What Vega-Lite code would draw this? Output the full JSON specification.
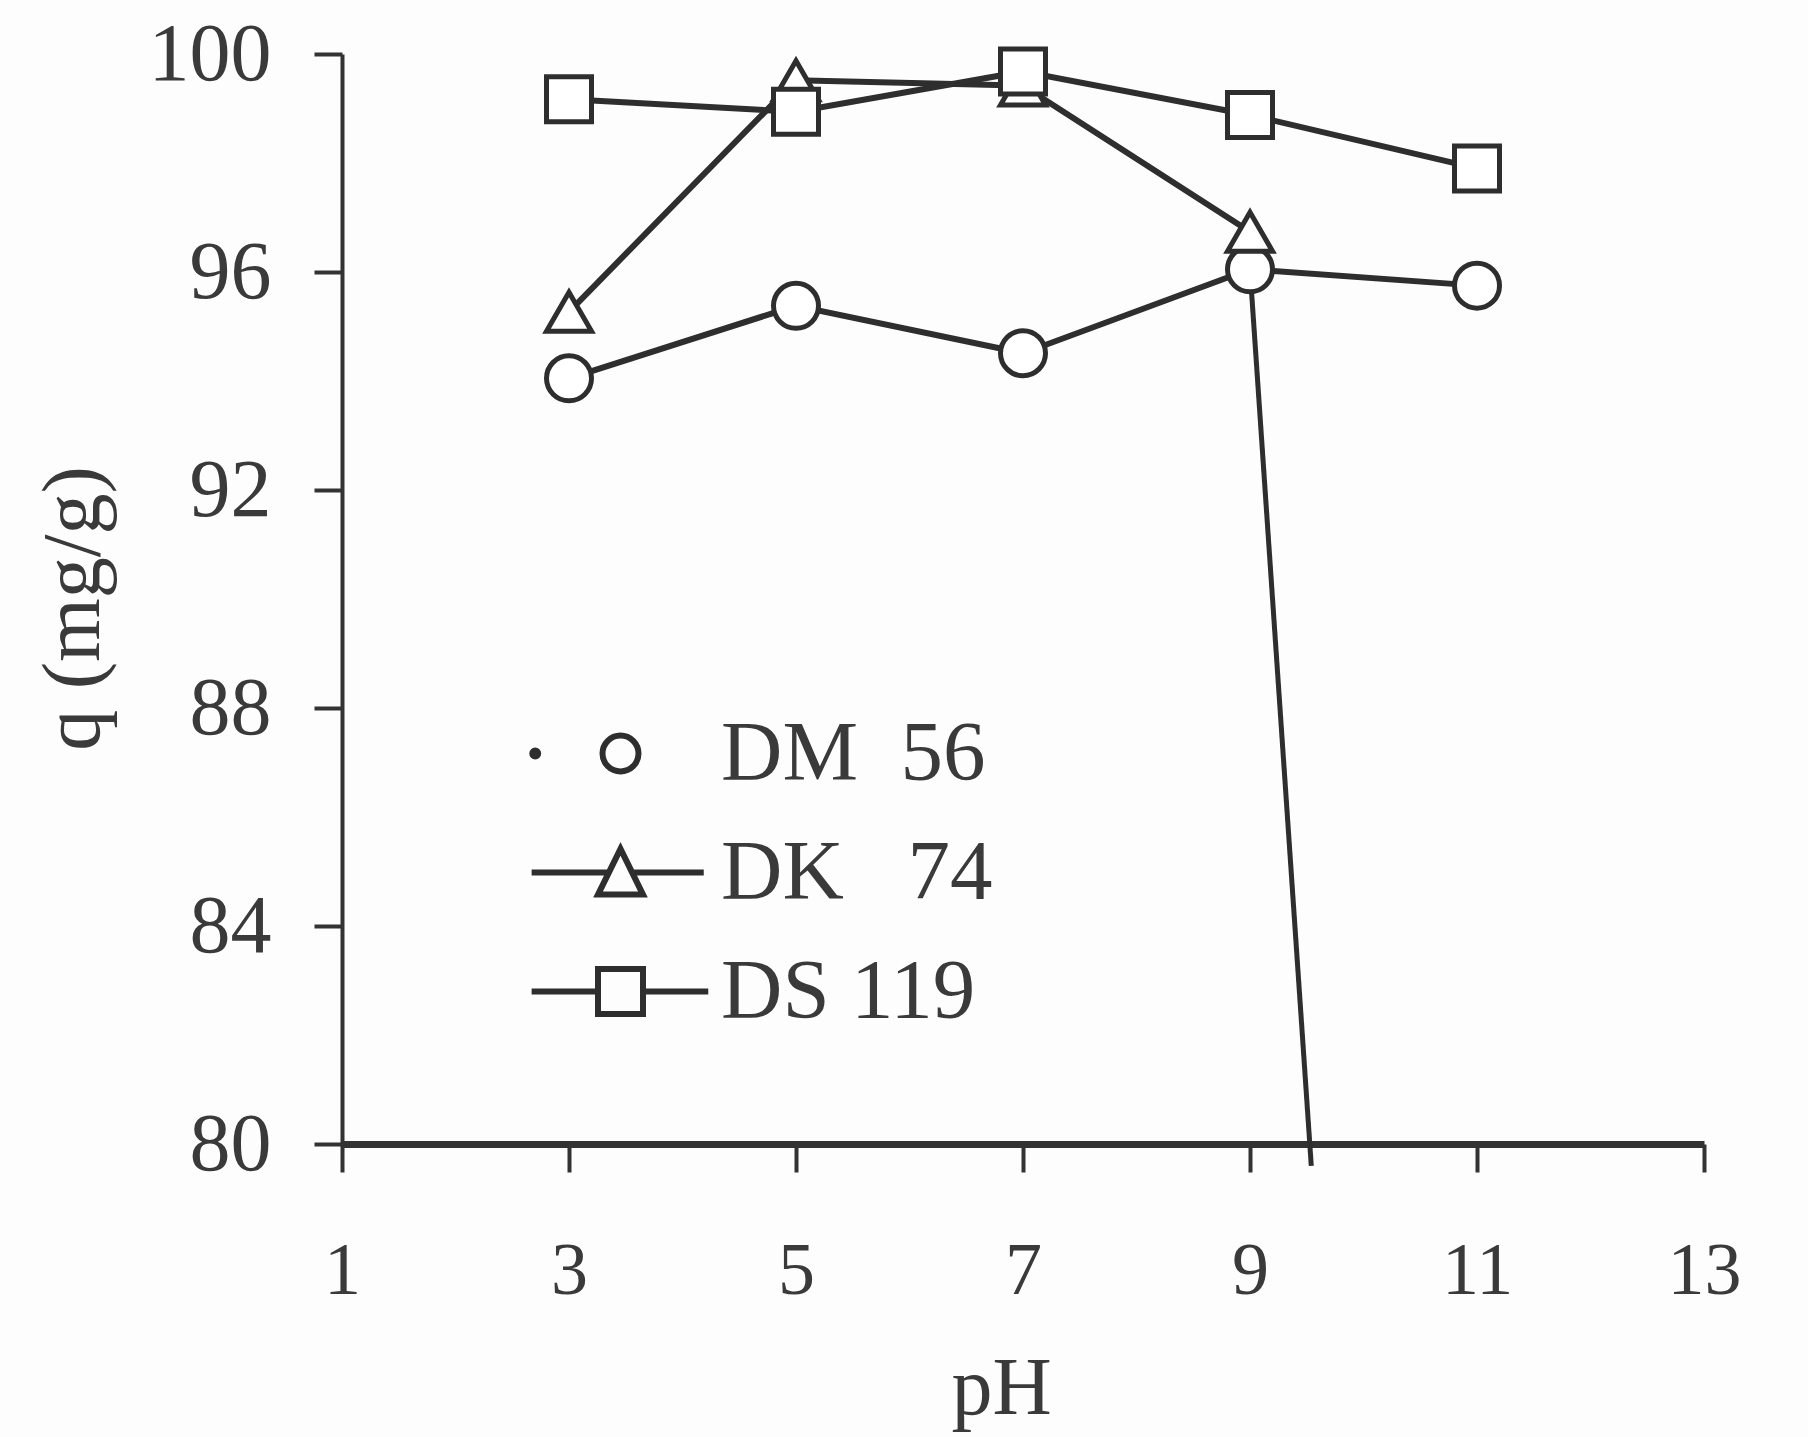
{
  "$schema": "https://vega.github.io/schema/vega-lite/v6.json",
  "description": "Adsorbed amount q (mg/g) of three dyes versus pH.",
  "width": 1362,
  "height": 1090,
  "autosize": "none",
  "padding": {"left": 342, "top": 54, "right": 104, "bottom": 293},
  "background": "#fdfdfd",
  "config": {"view": {"stroke": null}, "font": "Liberation Serif"},
  "datasets": {
    "adsorption": [
      {"series": "DM 56", "pH": 3, "q": 94.05},
      {"series": "DM 56", "pH": 5, "q": 95.38},
      {"series": "DM 56", "pH": 7, "q": 94.51},
      {"series": "DM 56", "pH": 9, "q": 96.05},
      {"series": "DM 56", "pH": 11, "q": 95.75},
      {"series": "DK 74", "pH": 3, "q": 95.27},
      {"series": "DK 74", "pH": 5, "q": 99.52},
      {"series": "DK 74", "pH": 7, "q": 99.42},
      {"series": "DK 74", "pH": 9, "q": 96.74},
      {"series": "DS 119", "pH": 3, "q": 99.17},
      {"series": "DS 119", "pH": 5, "q": 98.94},
      {"series": "DS 119", "pH": 7, "q": 99.68},
      {"series": "DS 119", "pH": 9, "q": 98.88},
      {"series": "DS 119", "pH": 11, "q": 97.9}
    ],
    "leader": [
      {"pH": 9, "q": 96.05},
      {"pH": 9.54, "q": 79.6}
    ]
  },
  "encoding": {
    "x": {
      "field": "pH",
      "type": "quantitative",
      "scale": {"domain": [1, 13], "nice": false, "zero": false},
      "axis": {
        "values": [1, 3, 5, 7, 9, 11, 13],
        "grid": false,
        "domainColor": "#333333",
        "domainWidth": 7,
        "tickColor": "#333333",
        "tickWidth": 4,
        "tickSize": 28,
        "labelFont": "Liberation Serif",
        "labelFontSize": 74,
        "labelColor": "#3a3a3a",
        "labelPadding": 63,
        "labelFlush": false,
        "labelOverlap": false,
        "title": "pH",
        "titleFont": "Liberation Serif",
        "titleFontSize": 82,
        "titleFontWeight": "normal",
        "titleColor": "#3a3a3a",
        "titlePadding": 40,
        "titleX": 659
      }
    },
    "y": {
      "field": "q",
      "type": "quantitative",
      "scale": {"domain": [80, 100], "nice": false, "zero": false},
      "axis": {
        "values": [80, 84, 88, 92, 96, 100],
        "grid": false,
        "domainColor": "#333333",
        "domainWidth": 4,
        "tickColor": "#333333",
        "tickWidth": 4,
        "tickSize": 28,
        "labelFont": "Liberation Serif",
        "labelFontSize": 82,
        "labelColor": "#3a3a3a",
        "labelPadding": 43,
        "labelFlush": false,
        "labelOverlap": false,
        "title": "q (mg/g)",
        "titleFont": "Liberation Serif",
        "titleFontSize": 82,
        "titleFontWeight": "normal",
        "titleColor": "#3a3a3a",
        "titlePadding": 33,
        "titleY": 554
      }
    }
  },
  "layer": [
    {
      "description": "Stroke running down from the pH 9 point to the axis",
      "data": {"name": "leader"},
      "mark": {"type": "line", "color": "#2e2e2e", "strokeWidth": 5}
    },
    {
      "data": {"name": "adsorption"},
      "mark": {"type": "line", "color": "#2e2e2e", "strokeWidth": 6},
      "encoding": {"detail": {"field": "series", "type": "nominal"}}
    },
    {
      "data": {"name": "adsorption"},
      "mark": {
        "type": "point",
        "filled": true,
        "fill": "white",
        "stroke": "#2e2e2e",
        "strokeWidth": 5,
        "size": 2025,
        "opacity": 1
      },
      "encoding": {
        "shape": {
          "field": "series",
          "type": "nominal",
          "scale": {
            "domain": ["DM 56", "DK 74", "DS 119"],
            "range": ["circle", "triangle-up", "square"]
          },
          "legend": null
        }
      }
    },
    {
      "description": "Key: no marks of its own, only the symbol legend with line stubs",
      "data": {"name": "adsorption"},
      "transform": [{"filter": "false"}],
      "mark": {
        "type": "point",
        "filled": false,
        "color": "#2e2e2e",
        "strokeWidth": 6,
        "size": 2025,
        "opacity": 1
      },
      "encoding": {
        "shape": {
          "field": "series",
          "type": "nominal",
          "scale": {
            "domain": ["DM 56", "DK 74", "DS 119"],
            "range": [
              "M-3.92,0A0.13,0.13 0 1,1 -3.66,0A0.13,0.13 0 1,1 -3.92,0Z M0.8,0A0.8,0.8 0 1,1 -0.8,0A0.8,0.8 0 1,1 0.8,0Z",
              "M-3.95,0L-0.5,0M0.5,0L3.7,0M0,-1.05L1,0.98L-1,0.98Z",
              "M-3.95,0L-1,0M1,0L3.9,0M-1,-1L1,-1L1,1L-1,1Z"
            ]
          },
          "legend": {
            "orient": "none",
            "legendX": 236,
            "legendY": 657,
            "title": null,
            "padding": 0,
            "symbolSize": 2025,
            "symbolStrokeWidth": 6,
            "symbolStrokeColor": "#2e2e2e",
            "symbolOpacity": 1,
            "labelFont": "Liberation Serif",
            "labelFontSize": 85,
            "labelColor": "#3a3a3a",
            "labelOffset": 58,
            "labelLimit": 0,
            "rowPadding": 33,
            "labelExpr": "datum.value === 'DM 56' ? 'DM\u00a0\u00a056' : datum.value === 'DK 74' ? 'DK\u00a0\u00a0\u00a074' : 'DS\u00a0119'"
          }
        }
      }
    }
  ],
  "resolve": {"scale": {"shape": "independent"}}
}
